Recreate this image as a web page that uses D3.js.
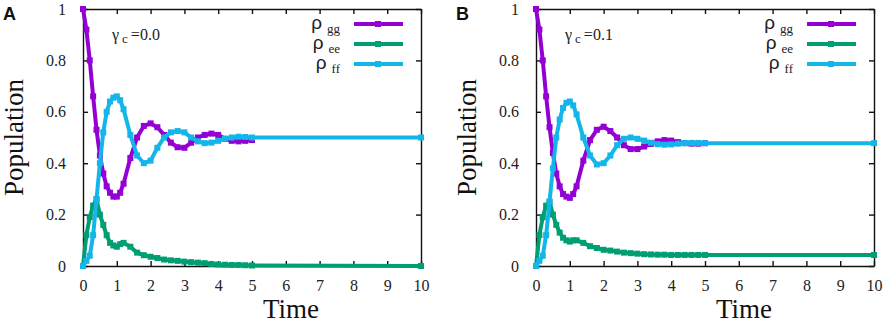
<!DOCTYPE html>
<html>
<head>
<meta charset="utf-8">
<script src="https://cdn.jsdelivr.net/npm/d3@7"></script>
<style>
  body { margin: 0; background: #fff; }
  .eixo path, .eixo line { stroke: #111; stroke-width: 1.4; }
  .eixo text { font-family: "Times New Roman", "Liberation Serif", serif; font-size: 16px; fill: #222; }
  .tituloeixo { font-family: "Times New Roman", "Liberation Serif", serif; font-size: 27px; fill: #111; }
</style>
</head>
<body>
<svg id="grafico"></svg>
<script>
// Time samples (gg is only plotted up to t = 5)
var tempos = [0,0.1,0.2,0.3,0.4,0.5,0.6,0.7,0.8,0.9,1.0,1.1,1.2,
              1.4,1.6,1.8,2.0,2.2,2.4,2.6,2.8,3.0,3.2,3.4,3.6,3.8,4.0,4.2,4.4,4.6,4.8,5.0,10];

// Panel A, gamma_c = 0.0
var ggA = [1.00,0.92,0.80,0.66,0.53,0.43,0.36,0.31,0.285,0.27,0.27,0.285,0.32,
           0.42,0.50,0.545,0.555,0.54,0.51,0.48,0.462,0.46,0.48,0.50,0.51,0.515,0.51,0.495,0.487,0.485,0.487,0.49];
var eeA = [0,0.12,0.19,0.235,0.26,0.20,0.16,0.12,0.09,0.08,0.075,0.085,0.09,
           0.075,0.052,0.042,0.036,0.031,0.025,0.022,0.02,0.017,0.015,0.013,0.011,0.008,0.006,0.005,0.004,0.004,0.003,0.002,0.0];
var ffA = [0,0.02,0.04,0.12,0.26,0.40,0.52,0.60,0.64,0.655,0.66,0.645,0.61,
           0.51,0.43,0.40,0.41,0.46,0.50,0.52,0.525,0.52,0.50,0.485,0.478,0.48,0.487,0.495,0.50,0.503,0.502,0.50,0.50];

// Panel B, gamma_c = 0.1
var ggB = [1.00,0.92,0.80,0.66,0.54,0.44,0.36,0.31,0.28,0.27,0.265,0.28,0.31,
           0.41,0.49,0.53,0.542,0.525,0.50,0.47,0.455,0.455,0.465,0.475,0.485,0.49,0.488,0.482,0.478,0.476,0.476,0.478];
var eeB = [0,0.12,0.19,0.235,0.25,0.20,0.16,0.13,0.11,0.10,0.095,0.10,0.10,
           0.09,0.077,0.07,0.063,0.06,0.056,0.052,0.05,0.048,0.046,0.045,0.044,0.044,0.043,0.043,0.043,0.043,0.043,0.043,0.043];
var ffB = [0,0.02,0.04,0.12,0.25,0.38,0.50,0.57,0.615,0.635,0.64,0.625,0.59,
           0.50,0.43,0.395,0.40,0.43,0.47,0.495,0.50,0.495,0.488,0.48,0.474,0.472,0.473,0.476,0.478,0.479,0.479,0.478,0.478];

var ticksX = [0,1,2,3,4,5,6,7,8,9,10];
var ticksY = [0,0.2,0.4,0.6,0.8,1];
var nomesSeries = ['gg','ee','ff'];
var cores = ['#9400d3','#009e73','#14b6ea'];

var fonteSerifa = '"Times New Roman", "Liberation Serif", serif';
var fonteSans = '"Liberation Sans", Arial, sans-serif';

var svg = d3.select('#grafico')
            .attr('width', 886)
            .attr('height', 324);

function Painel(p) {

  var larguraPlotagem = 338;
  var alturaPlotagem = 257;

  var g = svg.append('g')
             .attr('transform', 'translate('+p.esquerda+','+p.superior+')');

  var x = d3.scaleLinear().domain([0,10]).range([0,larguraPlotagem]);
  var y = d3.scaleLinear().domain([0,1]).range([alturaPlotagem,0]);

  // Axes with inward ticks, mirrored on top and right
  g.append('g').classed('eixo', true)
   .attr('transform', 'translate(0,'+alturaPlotagem+')')
   .call(d3.axisBottom(x).tickValues(ticksX).tickSizeInner(-5).tickSizeOuter(0).tickPadding(14));
  g.append('g').classed('eixo', true)
   .call(d3.axisLeft(y).tickValues(ticksY).tickSizeInner(-5).tickSizeOuter(0).tickPadding(17)
           .tickFormat(d3.format('~g')));
  g.append('g').classed('eixo', true)
   .call(d3.axisTop(x).tickValues(ticksX).tickSizeInner(-5).tickSizeOuter(0).tickFormat(''));
  g.append('g').classed('eixo', true)
   .attr('transform', 'translate('+larguraPlotagem+',0)')
   .call(d3.axisRight(y).tickValues(ticksY).tickSizeInner(-5).tickSizeOuter(0).tickFormat(''));
  g.selectAll('.eixo')
   .attr('font-family', fonteSerifa)
   .attr('font-size', 16);
  g.selectAll('.eixo text')
   .style('font-family', fonteSerifa);
  g.selectAll('.eixo .domain').attr('stroke-width', 1.6);

  // Series
  var linha = d3.line().x(d => x(d.t)).y(d => y(d.v));
  p.series.forEach(function(valores, i) {
    var dados = valores.map((v, j) => ({t: tempos[j], v: v}));
    g.append('path')
     .datum(dados)
     .attr('d', linha)
     .attr('fill', 'none')
     .attr('stroke', cores[i])
     .attr('stroke-width', 4);
    g.selectAll('.marca'+i)
     .data(dados)
     .enter()
     .append('rect')
     .classed('marca'+i, true)
     .attr('x', d => x(d.t)-3)
     .attr('y', d => y(d.v)-3)
     .attr('width', 6)
     .attr('height', 6)
     .attr('fill', cores[i]);
  });

  // Legend
  nomesSeries.forEach(function(nome, i) {
    var yl = 15 + i*20;
    var t = g.append('text')
             .attr('x', 257)
             .attr('y', yl+5)
             .attr('text-anchor', 'end')
             .attr('fill', '#222');
    t.append('tspan')
     .style('font-family', fonteSans)
     .style('font-size', '19px')
     .text('ρ');
    t.append('tspan')
     .attr('dx', 5)
     .attr('dy', 4)
     .style('font-family', fonteSerifa)
     .style('font-size', '13px')
     .text(nome);
    g.append('line')
     .attr('x1', 271).attr('x2', 320)
     .attr('y1', yl).attr('y2', yl)
     .attr('stroke', cores[i])
     .attr('stroke-width', 4);
    g.append('rect')
     .attr('x', 292).attr('y', yl-3)
     .attr('width', 6).attr('height', 6)
     .attr('fill', cores[i]);
  });

  // Gamma_c annotation
  var anot = g.append('text')
              .attr('x', 29)
              .attr('y', 31)
              .attr('fill', '#222')
              .style('font-family', fonteSerifa)
              .style('font-size', '16px');
  anot.append('tspan').text('γ');
  anot.append('tspan').attr('dx', 3).attr('dy', 3).style('font-size', '13px').text('c');
  anot.append('tspan').attr('dx', 3).attr('dy', -3).text('=' + p.gama);

  // Axis titles
  g.append('text')
   .classed('tituloeixo', true)
   .attr('text-anchor', 'middle')
   .attr('transform', 'translate(-60,'+alturaPlotagem/2+') rotate(-90)')
   .text('Population');
  g.append('text')
   .classed('tituloeixo', true)
   .attr('text-anchor', 'middle')
   .attr('x', 208)
   .attr('y', 309)
   .text('Time');

  // Panel letter
  svg.append('text')
     .attr('x', p.esquerda-80)
     .attr('y', 20)
     .style('font-family', fonteSans)
     .style('font-weight', 'bold')
     .style('font-size', '18px')
     .attr('fill', '#111')
     .text(p.letra);
}

new Painel({esquerda: 83, superior: 9, letra: 'A', gama: '0.0', series: [ggA, eeA, ffA]});
new Painel({esquerda: 536, superior: 9, letra: 'B', gama: '0.1', series: [ggB, eeB, ffB]});
</script>
</body>
</html>
